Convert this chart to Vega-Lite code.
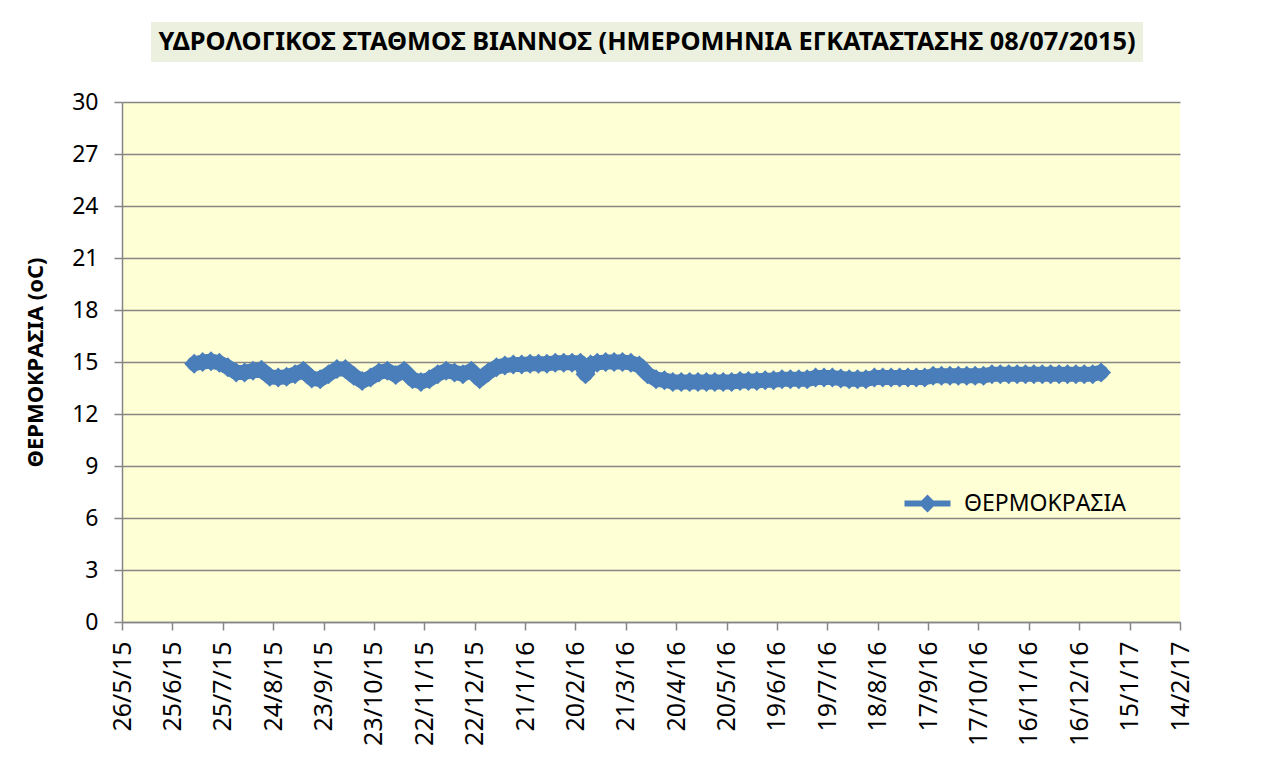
{
 "$schema": "https://vega.github.io/schema/vega-lite/v6.json",
 "background": "white",
 "padding": {"left": 24, "top": 22, "right": 5, "bottom": 5},
 "config": {"font": "Noto Sans", "view": {"stroke": null}},
 "spacing": 29,
 "vconcat": [
  {"hconcat": [
    {"width": 29, "height": 40, "data": {"values": [{}]}, "mark": {"type": "text"}, "encoding": {"text": {"value": ""}}, "view": {"stroke": null}},
    {"width": 992, "height": 40, "data": {"values": [{}]}, "mark": {"type": "text", "fontWeight": "bold", "fontSize": 25.4, "font": "Noto Sans", "color": "black"}, "encoding": {"text": {"value": "ΥΔΡΟΛΟΓΙΚΟΣ ΣΤΑΘΜΟΣ ΒΙΑΝΝΟΣ (ΗΜΕΡΟΜΗΝΙΑ ΕΓΚΑΤΑΣΤΑΣΗΣ 08/07/2015)"}}, "view": {"fill": "#EBF1DE", "stroke": null}}
   ], "spacing": 0},
  {
   "width": 1058, "height": 520,
   "view": {"fill": "#FFFFD5", "stroke": null},
   "data": {"values": [
    {"date":"2015-07-08","temp":14.9},{"date":"2015-07-13","temp":15.0},{"date":"2015-07-18","temp":15.05},{"date":"2015-07-23","temp":14.95},
    {"date":"2015-07-28","temp":14.7},{"date":"2015-08-02","temp":14.4},{"date":"2015-08-07","temp":14.4},{"date":"2015-08-12","temp":14.5},
    {"date":"2015-08-17","temp":14.55},{"date":"2015-08-22","temp":14.15},{"date":"2015-08-27","temp":14.1},{"date":"2015-09-01","temp":14.15},
    {"date":"2015-09-06","temp":14.3},{"date":"2015-09-11","temp":14.5},{"date":"2015-09-16","temp":14.05},{"date":"2015-09-21","temp":14.0},
    {"date":"2015-09-26","temp":14.3},{"date":"2015-10-01","temp":14.6},{"date":"2015-10-06","temp":14.6},{"date":"2015-10-11","temp":14.2},
    {"date":"2015-10-16","temp":13.9},{"date":"2015-10-21","temp":14.1},{"date":"2015-10-26","temp":14.4},{"date":"2015-10-31","temp":14.5},
    {"date":"2015-11-05","temp":14.25},{"date":"2015-11-10","temp":14.5},{"date":"2015-11-15","temp":14.0},{"date":"2015-11-20","temp":13.85},
    {"date":"2015-11-25","temp":14.0},{"date":"2015-11-30","temp":14.3},{"date":"2015-12-05","temp":14.5},{"date":"2015-12-10","temp":14.4},
    {"date":"2015-12-15","temp":14.3},{"date":"2015-12-20","temp":14.5},{"date":"2015-12-25","temp":14.0},{"date":"2015-12-30","temp":14.4},
    {"date":"2016-01-04","temp":14.7},{"date":"2016-01-09","temp":14.8},{"date":"2016-01-14","temp":14.85},{"date":"2016-01-19","temp":14.85},
    {"date":"2016-01-24","temp":14.9},{"date":"2016-01-29","temp":14.9},{"date":"2016-02-03","temp":14.9},{"date":"2016-02-08","temp":14.95},
    {"date":"2016-02-13","temp":14.95},{"date":"2016-02-18","temp":14.95},{"date":"2016-02-23","temp":14.95},{"date":"2016-02-26","temp":14.3},
    {"date":"2016-02-29","temp":14.85},{"date":"2016-03-04","temp":14.95},{"date":"2016-03-09","temp":15.0},{"date":"2016-03-14","temp":15.0},
    {"date":"2016-03-19","temp":15.0},{"date":"2016-03-24","temp":14.95},{"date":"2016-03-29","temp":14.8},{"date":"2016-04-03","temp":14.3},
    {"date":"2016-04-08","temp":14.0},{"date":"2016-04-13","temp":13.95},{"date":"2016-04-18","temp":13.85},{"date":"2016-04-23","temp":13.85},
    {"date":"2016-04-28","temp":13.85},{"date":"2016-05-03","temp":13.85},{"date":"2016-05-08","temp":13.85},{"date":"2016-05-13","temp":13.85},
    {"date":"2016-05-18","temp":13.85},{"date":"2016-05-23","temp":13.85},{"date":"2016-05-28","temp":13.9},{"date":"2016-06-02","temp":13.9},
    {"date":"2016-06-07","temp":13.9},{"date":"2016-06-12","temp":13.95},{"date":"2016-06-17","temp":13.95},{"date":"2016-06-22","temp":14.0},
    {"date":"2016-06-27","temp":14.0},{"date":"2016-07-02","temp":14.0},{"date":"2016-07-07","temp":14.0},{"date":"2016-07-12","temp":14.1},
    {"date":"2016-07-17","temp":14.1},{"date":"2016-07-22","temp":14.1},{"date":"2016-07-27","temp":14.05},{"date":"2016-08-01","temp":14.0},
    {"date":"2016-08-06","temp":14.0},{"date":"2016-08-11","temp":14.0},{"date":"2016-08-16","temp":14.1},{"date":"2016-08-21","temp":14.1},
    {"date":"2016-08-26","temp":14.1},{"date":"2016-08-31","temp":14.1},{"date":"2016-09-05","temp":14.1},{"date":"2016-09-10","temp":14.1},
    {"date":"2016-09-15","temp":14.1},{"date":"2016-09-20","temp":14.2},{"date":"2016-09-25","temp":14.2},{"date":"2016-09-30","temp":14.2},
    {"date":"2016-10-05","temp":14.2},{"date":"2016-10-10","temp":14.2},{"date":"2016-10-15","temp":14.2},{"date":"2016-10-20","temp":14.2},
    {"date":"2016-10-25","temp":14.3},{"date":"2016-10-30","temp":14.3},{"date":"2016-11-04","temp":14.3},{"date":"2016-11-09","temp":14.3},
    {"date":"2016-11-14","temp":14.3},{"date":"2016-11-19","temp":14.3},{"date":"2016-11-24","temp":14.3},{"date":"2016-11-29","temp":14.3},
    {"date":"2016-12-04","temp":14.3},{"date":"2016-12-09","temp":14.3},{"date":"2016-12-14","temp":14.3},{"date":"2016-12-19","temp":14.3},
    {"date":"2016-12-24","temp":14.3},{"date":"2016-12-29","temp":14.4}
   ]},
   "mark": {"type": "line", "strokeWidth": 15, "strokeJoin": "round", "strokeCap": "round",
            "point": {"shape": "diamond", "size": 400, "filled": true, "opacity": 1}},
   "encoding": {
    "x": {"field": "date", "type": "temporal",
          "scale": {"type": "utc", "nice": false, "domain": [{"year": 2015, "month": 5, "date": 26, "utc": true}, {"year": 2017, "month": 2, "date": 14, "utc": true}]},
          "axis": {"title": null, "grid": false, "format": "%-d/%-m/%y", "labelAngle": -90,
                   "labelFont": "Noto Sans", "labelFontSize": 25, "labelColor": "black", "labelPadding": 11, "labelFlush": false, "labelOverlap": false, "labelBound": false,
                   "tickSize": 8, "tickColor": "#868686", "tickWidth": 1.5, "domainColor": "#868686", "domainWidth": 1.5,
                   "values": [
                    {"year": 2015, "month": 5, "date": 26, "utc": true}, {"year": 2015, "month": 6, "date": 25, "utc": true},
                    {"year": 2015, "month": 7, "date": 25, "utc": true}, {"year": 2015, "month": 8, "date": 24, "utc": true},
                    {"year": 2015, "month": 9, "date": 23, "utc": true}, {"year": 2015, "month": 10, "date": 23, "utc": true},
                    {"year": 2015, "month": 11, "date": 22, "utc": true}, {"year": 2015, "month": 12, "date": 22, "utc": true},
                    {"year": 2016, "month": 1, "date": 21, "utc": true}, {"year": 2016, "month": 2, "date": 20, "utc": true},
                    {"year": 2016, "month": 3, "date": 21, "utc": true}, {"year": 2016, "month": 4, "date": 20, "utc": true},
                    {"year": 2016, "month": 5, "date": 20, "utc": true}, {"year": 2016, "month": 6, "date": 19, "utc": true},
                    {"year": 2016, "month": 7, "date": 19, "utc": true}, {"year": 2016, "month": 8, "date": 18, "utc": true},
                    {"year": 2016, "month": 9, "date": 17, "utc": true}, {"year": 2016, "month": 10, "date": 17, "utc": true},
                    {"year": 2016, "month": 11, "date": 16, "utc": true}, {"year": 2016, "month": 12, "date": 16, "utc": true},
                    {"year": 2017, "month": 1, "date": 15, "utc": true}, {"year": 2017, "month": 2, "date": 14, "utc": true}
                   ]}},
    "y": {"field": "temp", "type": "quantitative",
          "scale": {"domain": [0, 30], "nice": false},
          "axis": {"values": [0, 3, 6, 9, 12, 15, 18, 21, 24, 27, 30], "title": "ΘΕΡΜΟΚΡΑΣΙΑ (oC)",
                   "titleFont": "Noto Sans", "titleFontSize": 22, "titleFontWeight": "bold", "titleColor": "black", "titlePadding": 24,
                   "labelFont": "Noto Sans", "labelFontSize": 23, "labelColor": "black", "labelPadding": 16,
                   "tickSize": 8, "tickColor": "#868686", "tickWidth": 1.5, "domainColor": "#868686", "domainWidth": 1.5,
                   "grid": true, "gridColor": "#868686", "gridWidth": 1.5}},
    "color": {"datum": "ΘΕΡΜΟΚΡΑΣΙΑ", "type": "nominal", "scale": {"range": ["#4A7EBB"]},
              "legend": {"title": null, "orient": "none", "legendX": 794, "legendY": 470,
                         "labelFont": "Noto Sans", "labelFontSize": 23, "labelColor": "black", "labelOffset": 25, "labelLimit": 400,
                         "symbolSize": 400,
                         "symbolType": "M-2.3,-0.3L-0.6,-0.3L0,-0.9L0.6,-0.3L2.3,-0.3L2.3,0.3L0.6,0.3L0,0.9L-0.6,0.3L-2.3,0.3Z",
                         "encode": {"symbols": {"update": {"fill": {"value": "#4A7EBB"}, "stroke": {"value": "#4A7EBB"}, "strokeWidth": {"value": 0}, "opacity": {"value": 1}}}}}}
   }
  }
 ]
}
